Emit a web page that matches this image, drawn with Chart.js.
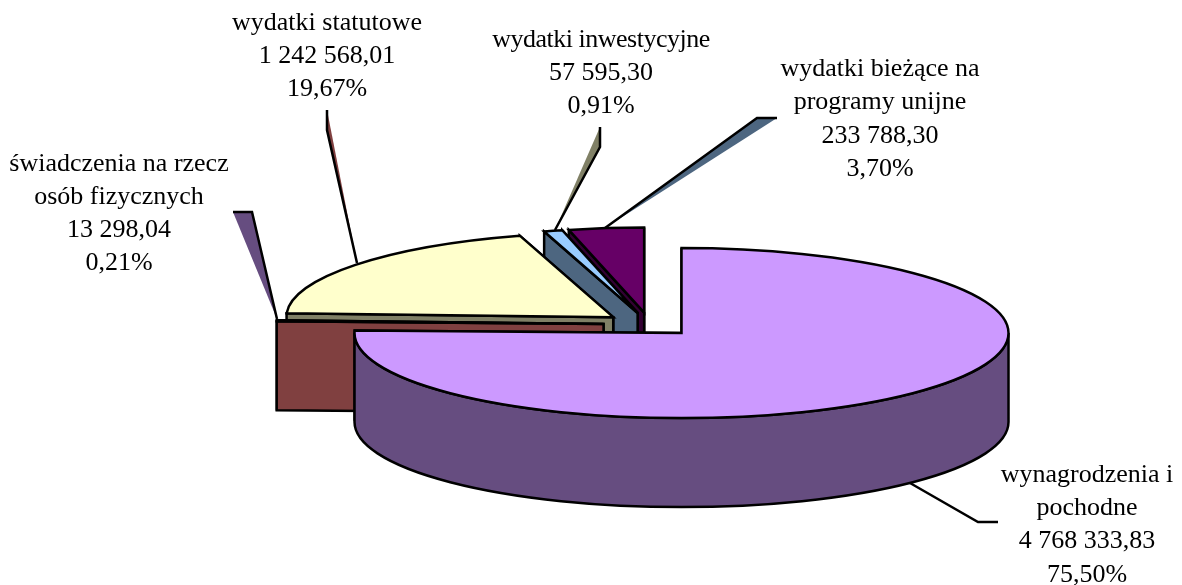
<!DOCTYPE html>
<html lang="pl">
<head>
  <meta charset="UTF-8">
  <title>Wydatki</title>
  <script src="https://cdn.jsdelivr.net/npm/chart.js"></script>
  <style>
    html, body { margin: 0; padding: 0; background: #fff; }
    #wrap { position: relative; width: 1182px; height: 585px; }
  </style>
</head>
<body>
<div id="wrap"><canvas id="pie"></canvas></div>
<script>
  // data, in chart order (clockwise from 12 o'clock)
  var categories = ['wynagrodzenia i pochodne', 'świadczenia na rzecz osób fizycznych', 'wydatki statutowe', 'wydatki inwestycyjne', 'wydatki bieżące na programy unijne'];
  var amounts = [4768333.83, 13298.04, 1242568.01, 57595.30, 233788.30];
  var amountLabels = ['4 768 333,83', '13 298,04', '1 242 568,01', '57 595,30', '233 788,30'];
  var percentLabels = ['75,50%', '0,21%', '19,67%', '0,91%', '3,70%'];
  var nameLines = [['wynagrodzenia i', 'pochodne'], ['świadczenia na rzecz', 'osób fizycznych'], ['wydatki statutowe'], ['wydatki inwestycyjne'], ['wydatki bieżące na', 'programy unijne']];

  var topColors = ['#CC99FF', '#FF8080', '#FFFFCC', '#99CCFF', '#660066'];
  var sideColors = ['#664D80', '#804040', '#808066', '#4D6680', '#330033'];
  var leaderFills = [null, '#664D80', '#804040', '#808066', '#4D6680'];

  // look of the fake 3d
  var TILT = 0.26, DEPTH = 89, EXPLODE = 46;

  // label block: centre x, baseline of the first line, line step, tracking of the name
  var labelPos = [
    { x: 1087, y: 482, step: 33.2, track: 0 },
    { x: 119, y: 171, step: 33, track: 0 },
    { x: 327, y: 30, step: 33, track: 0 },
    { x: 601, y: 47, step: 33, track: -0.5 },
    { x: 880, y: 76, step: 33.3, track: 0 }
  ];
  var leaders = [
    [[910, 483], [978, 522], [998, 522]],
    [[233, 212], [252, 212], [277, 319]],
    [[327, 110], [327, 130], [357, 263]],
    [[600, 127], [600, 147], [555, 230]],
    [[777, 118], [757, 118], [605, 228]]
  ];

  function pathRadial(ctx, c, r, t, d) {
    var px = c.x + Math.cos(t) * r, py = c.y + Math.sin(t) * r * TILT;
    ctx.beginPath();
    ctx.moveTo(c.x, c.y);
    ctx.lineTo(px, py);
    ctx.lineTo(px, py + d);
    ctx.lineTo(c.x, c.y + d);
    ctx.closePath();
  }

  var pie3d = {
    id: 'pie3d',
    beforeDatasetsDraw: function (chart) {
      var ctx = chart.ctx;
      var arcs = chart.getDatasetMeta(0).data;
      ctx.save();
      ctx.lineWidth = 2.5;
      ctx.lineJoin = 'miter';
      ctx.strokeStyle = '#000';

      // leaders sit behind the slices
      leaders.forEach(function (pts, i) {
        if (leaderFills[i]) {
          ctx.beginPath();
          ctx.moveTo(pts[0][0], pts[0][1]);
          ctx.lineTo(pts[1][0], pts[1][1]);
          ctx.lineTo(pts[2][0], pts[2][1]);
          ctx.closePath();
          ctx.fillStyle = leaderFills[i];
          ctx.fill();
        }
        ctx.beginPath();
        ctx.moveTo(pts[0][0], pts[0][1]);
        ctx.lineTo(pts[1][0], pts[1][1]);
        ctx.lineTo(pts[2][0], pts[2][1]);
        ctx.stroke();
      });

      // back to front: last slice first, the big one on top
      for (var i = arcs.length - 1; i >= 0; i--) {
        var a = arcs[i].getProps(['x', 'y', 'startAngle', 'endAngle', 'outerRadius'], true);
        var mid = (a.startAngle + a.endAngle) / 2;
        var c = { x: a.x + Math.cos(mid) * EXPLODE, y: a.y + Math.sin(mid) * EXPLODE * TILT };
        var r = a.outerRadius;

        ctx.fillStyle = sideColors[i];
        pathRadial(ctx, c, r, a.endAngle, DEPTH);
        ctx.fill(); ctx.stroke();
        pathRadial(ctx, c, r, a.startAngle, DEPTH);
        ctx.fill(); ctx.stroke();

        // outer wall, only the part facing the viewer
        var from = Math.max(a.startAngle, 0), to = Math.min(a.endAngle, Math.PI);
        if (to > from) {
          ctx.beginPath();
          ctx.ellipse(c.x, c.y, r, r * TILT, 0, from, to);
          ctx.ellipse(c.x, c.y + DEPTH, r, r * TILT, 0, to, from, true);
          ctx.closePath();
          ctx.fill(); ctx.stroke();
        }

        // top face: the library's own arc, squashed and moved
        ctx.save();
        ctx.translate(c.x, c.y);
        ctx.scale(1, TILT);
        ctx.translate(-a.x, -a.y);
        arcs[i].draw(ctx);
        ctx.restore();

        ctx.beginPath();
        ctx.moveTo(c.x, c.y);
        ctx.ellipse(c.x, c.y, r, r * TILT, 0, a.startAngle, a.endAngle);
        ctx.closePath();
        ctx.stroke();
      }
      ctx.restore();
      return false;
    },
    afterDraw: function (chart) {
      var ctx = chart.ctx;
      ctx.save();
      ctx.font = '26px "Liberation Serif", serif';
      ctx.fillStyle = '#000';
      ctx.textAlign = 'center';
      ctx.textBaseline = 'alphabetic';
      categories.forEach(function (name, i) {
        var lines = nameLines[i].concat([amountLabels[i], percentLabels[i]]);
        lines.forEach(function (line, n) {
          ctx.letterSpacing = (n < nameLines[i].length ? labelPos[i].track : 0) + 'px';
          ctx.fillText(line, labelPos[i].x, labelPos[i].y + n * labelPos[i].step);
        });
      });
      ctx.restore();
    }
  };

  new Chart(document.getElementById('pie'), {
    type: 'pie',
    data: {
      labels: categories,
      datasets: [{
        data: amounts,
        backgroundColor: topColors,
        borderWidth: 0
      }]
    },
    options: {
      responsive: true,
      maintainAspectRatio: false,
      animation: false,
      radius: 327,
      layout: { padding: { left: 117, top: 64 } },
      plugins: { legend: { display: false }, tooltip: { enabled: false } }
    },
    plugins: [pie3d]
  });
</script>
</body>
</html>
